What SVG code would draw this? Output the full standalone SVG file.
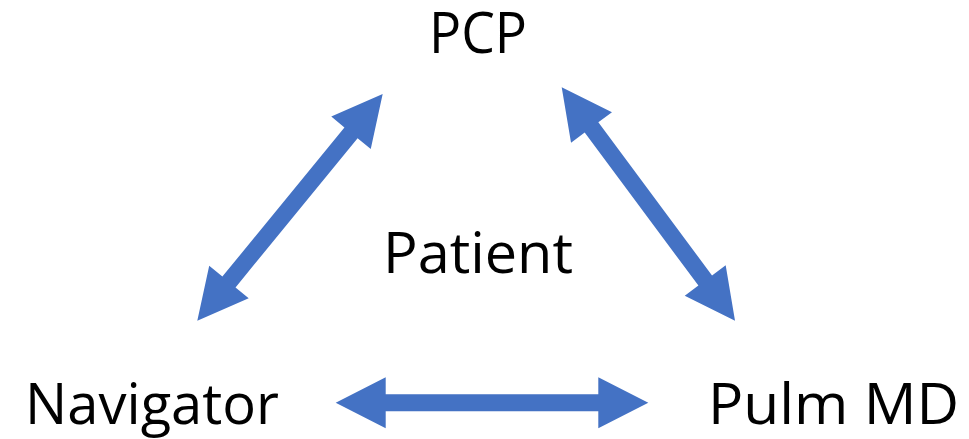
<svg xmlns="http://www.w3.org/2000/svg" width="969" height="439" viewBox="0 0 969 439">
<style>
.lbl{font-family:"Open Sans","Noto Sans","Liberation Sans",sans-serif;font-size:56px;fill:#000}
.arr{fill:#4472C4;stroke:none}
</style>
<rect width="969" height="439" fill="#fff"/>
<g id="connectors">
<path class="arr" transform="translate(335.7,402.7)" d="M0,0 L50,-25.5 L50,-8.5 L262.6,-8.5 L262.6,-25.5 L312.6,0 L262.6,25.5 L262.6,8.5 L50,8.5 L50,25.5 Z"/>
<path class="arr" transform="translate(197.3,320.7) rotate(-50.72)" d="M0,0 L50,-25.5 L50,-8.5 L242.8,-8.5 L242.8,-25.5 L292.8,0 L242.8,25.5 L242.8,8.5 L50,8.5 L50,25.5 Z"/>
<path class="arr" transform="translate(561.7,87.3) rotate(53.4)" d="M0,0 L50,-25.5 L50,-8.5 L240.7,-8.5 L240.7,-25.5 L290.7,0 L240.7,25.5 L240.7,8.5 L50,8.5 L50,25.5 Z"/>
</g>
<g id="pcp"><text class="lbl" x="429" y="52.5" textLength="98" lengthAdjust="spacingAndGlyphs">PCP</text></g>
<g id="patient"><text class="lbl" x="383" y="273.3" textLength="190" lengthAdjust="spacingAndGlyphs">Patient</text></g>
<g id="navigator"><text class="lbl" x="25" y="423.5" textLength="254" lengthAdjust="spacingAndGlyphs">Navigator</text></g>
<g id="pulmmd"><text class="lbl" x="708" y="424" textLength="251" lengthAdjust="spacingAndGlyphs">Pulm MD</text></g>
</svg>
